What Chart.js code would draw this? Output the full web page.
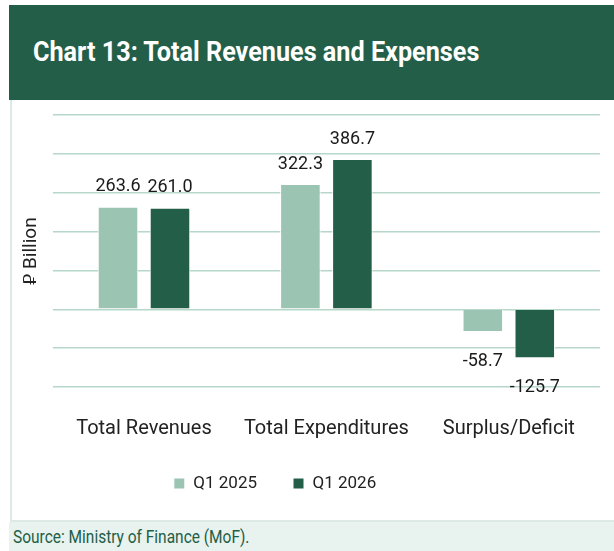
<!DOCTYPE html>
<html>
<head>
<meta charset="utf-8">
<script src="https://cdn.jsdelivr.net/npm/chart.js@4"></script>
<style>
  html, body { margin: 0; padding: 0; background: #fff; }
  body { width: 614px; height: 551px; position: relative; overflow: hidden; font-family: Roboto, "Liberation Sans", sans-serif; }
  #header {
    position: absolute; left: 9px; top: 5px; width: 605px; height: 95px;
    background: #235e48; color: #fff;
  }
  #header span {
    position: absolute; left: 24px; top: 30px; font-size: 28px; font-weight: bold;
    display: inline-block; transform: scaleX(0.9); transform-origin: left center; white-space: nowrap;
  }
  #panel {
    position: absolute; left: 10px; top: 100px; width: 604px; height: 420px;
    border-left: 2px solid #dde9e4; border-bottom: 2px solid #dde9e4; background: #fff;
  }
  #chartWrap { position: absolute; left: 2px; top: 0; width: 600px; height: 420px; }
  #footer {
    position: absolute; left: 9px; top: 522px; width: 605px; height: 29px;
    background: #e8f2ee; color: #1f5e47;
  }
  #footer span {
    position: absolute; left: 4px; top: 4px; font-size: 18px; white-space: nowrap;
    display: inline-block; transform: scaleX(0.86); transform-origin: left center;
  }
</style>
</head>
<body>
<div id="header"><span>Chart 13: Total Revenues and Expenses</span></div>
<div id="panel"><div id="chartWrap"><canvas id="chart"></canvas></div></div>
<div id="footer"><span>Source: Ministry of Finance (MoF).</span></div>
<script>
const categories = ["Total Revenues", "Total Expenditures", "Surplus/Deficit"];
const q1_2025 = [263.6, 322.3, -58.7];
const q1_2026 = [261.0, 386.7, -125.7];
const seriesNames = ["Q1 2025", "Q1 2026"];
const yTitle = "\u20C1 Billion";

// value labels above / below the bars
const barLabels = {
  id: "barLabels",
  afterDatasetsDraw(chart) {
    const ctx = chart.ctx;
    ctx.save();
    ctx.font = "18px Roboto";
    ctx.fillStyle = "#1a1a1a";
    ctx.textAlign = "center";
    chart.data.datasets.forEach((ds, i) => {
      chart.getDatasetMeta(i).data.forEach((bar, j) => {
        const v = ds.data[j];
        if (v >= 0) {
          ctx.textBaseline = "bottom";
          ctx.fillText(v.toFixed(1), bar.x, bar.y - 11);
        } else {
          ctx.textBaseline = "top";
          ctx.fillText(v.toFixed(1), bar.x, bar.y + 20);
        }
      });
    });
    ctx.restore();
  }
};

// the legend sits a bit left of the plot centre in the original
const legendShift = {
  id: "legendShift",
  afterLayout(chart) {
    chart.legend.left -= 35;
    chart.legend.right -= 35;
  }
};

new Chart(document.getElementById("chart"), {
  type: "bar",
  data: {
    labels: categories,
    datasets: [
      { label: seriesNames[0], data: q1_2025, backgroundColor: "#9cc4b2", borderColor: "#ffffff", borderWidth: 1 },
      { label: seriesNames[1], data: q1_2026, backgroundColor: "#235e48", borderColor: "#ffffff", borderWidth: 1 }
    ]
  },
  options: {
    responsive: true,
    maintainAspectRatio: false,
    animation: false,
    categoryPercentage: 0.57,
    barPercentage: 0.78,
    layout: { padding: { left: 6, right: 14, top: 15, bottom: 18 } },
    plugins: {
      legend: {
        position: "bottom",
        labels: { boxWidth: 11, boxHeight: 11, font: { size: 17, family: "Roboto" }, color: "#222", padding: 36 }
      },
      tooltip: { enabled: false }
    },
    scales: {
      x: {
        grid: { display: false },
        border: { display: false },
        ticks: { font: { size: 20, family: "Roboto" }, color: "#222", padding: 22 },
        afterFit(scale) { scale.height -= 24; }
      },
      y: {
        min: -200, max: 500,
        ticks: { display: false, stepSize: 100 },
        grid: { color: "#b6d7c9", lineWidth: 1.5, drawTicks: false },
        border: { display: false },
        title: { display: true, text: yTitle, font: { size: 19, family: "Roboto" }, color: "#222", padding: { top: 0, bottom: 10 } }
      }
    }
  },
  plugins: [barLabels, legendShift]
});
</script>
</body>
</html>
